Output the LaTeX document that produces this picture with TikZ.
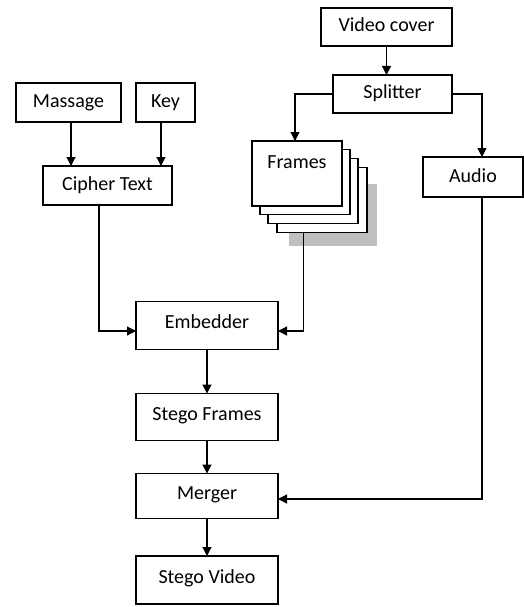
\documentclass[tikz,border=0pt]{standalone}
\usepackage{fontspec}
\setmainfont{Carlito}
\usetikzlibrary{arrows.meta}
\begin{document}
\begin{tikzpicture}[x=1pt,y=-1pt,
  line width=1.2pt,
  every node/.style={font=\fontsize{20}{24}\selectfont, inner sep=0pt, outer sep=0pt},
  sbox/.style={draw, fill=white, text height=14pt, text depth=4pt, minimum height=38pt},
  tbox/.style={draw, fill=white, text height=14pt, text depth=8pt, minimum width=142pt},
  fbox/.style={draw, fill=white, minimum width=90pt, minimum height=65pt},
  arr/.style={-{Triangle[length=9pt,width=9pt]}, line width=1.2pt}]
\useasboundingbox (0,0) rectangle (524,607);

% top row
\node[sbox, minimum width=131pt] (vc) at (386.5,27) {Video cover};
\node[sbox, minimum width=119pt] (sp) at (392.5,94) {Splitter};
\node[sbox, minimum width=105pt, minimum height=39pt] (ms) at (68.5,102.5) {Massage};
\node[sbox, minimum width=59pt, minimum height=39pt] (key) at (165.5,102.5) {Key};
\node[sbox, minimum width=129pt, minimum height=39pt] (ct) at (107.5,185.5) {Cipher Text};
\node[sbox, minimum width=100pt, minimum height=40pt] (au) at (473,177) {Audio};

% frames stack
\node[draw=none, fill=black!25, minimum width=88pt, minimum height=62pt] (shadow) at (332.5,215) {};
\node[fbox] (f4) at (322,200) {};
\node[fbox] (f3) at (313,191) {};
\node[fbox] (f2) at (305,182) {};
\node[fbox, text height=14pt, text depth=24pt] (fr) at (297,173.5) {Frames};

% main column
\node[tbox, minimum height=48pt] (emb) at (207,325.5) {Embedder};
\node[tbox, minimum height=47pt] (sf) at (207,417) {Stego Frames};
\node[tbox, minimum height=45pt] (mg) at (207,496) {Merger};
\node[tbox, minimum height=48pt] (sv) at (207,580) {Stego Video};

\coordinate (fl) at (295,94);
\coordinate (ar) at (482,94);
\coordinate (cb) at (99,331);
\coordinate (fb) at (303.3,331);
\coordinate (ab) at (482,499);

\draw[arr] (vc.south) -- (vc.south |- sp.north);
\draw[arr] (sp.west) -- (fl) -- (fl |- fr.north);
\draw[arr] (sp.east) -- (ar) -- (ar |- au.north);
\draw[arr] (ms.south -| 71,0) -- (ct.north -| 71,0);
\draw[arr] (key.south -| 161,0) -- (ct.north -| 161,0);
\draw[arr] (ct.south -| cb) -- (cb) -- (cb -| emb.west);
\draw[arr] (f4.south -| fb) -- (fb) -- (fb -| emb.east);
\draw[arr] (emb.south) -- (sf.north);
\draw[arr] (sf.south) -- (mg.north);
\draw[arr] (au.south -| ab) -- (ab) -- (ab -| mg.east);
\draw[arr] (mg.south) -- (sv.north);
\end{tikzpicture}
\end{document}
